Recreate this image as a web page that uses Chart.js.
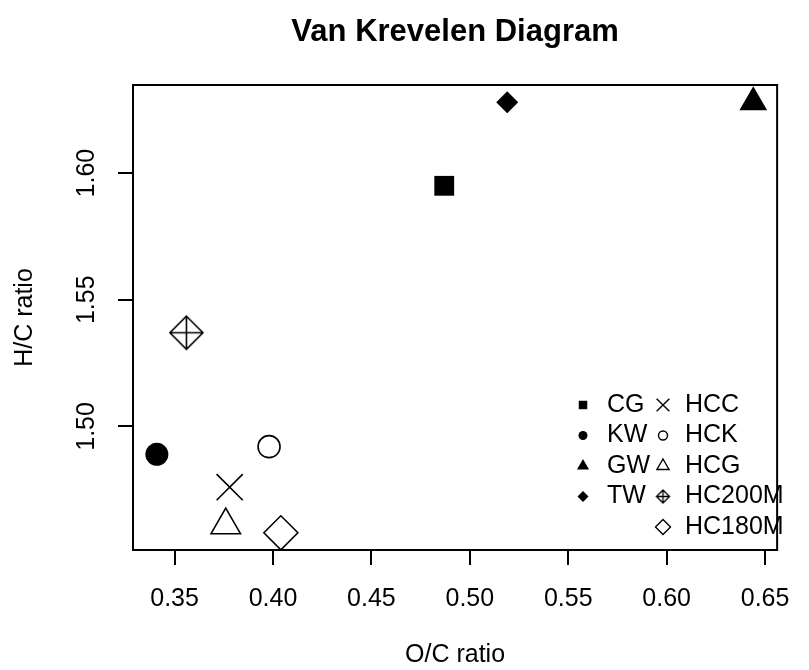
<!DOCTYPE html>
<html>
<head>
<meta charset="utf-8">
<title>Van Krevelen Diagram</title>
<script src="https://cdn.jsdelivr.net/npm/chart.js@4.4.1/dist/chart.umd.min.js"></script>
<style>
  html, body { margin: 0; padding: 0; background: #fff; overflow: hidden; }
</style>
</head>
<body>
<canvas id="vkChart" width="809" height="670"></canvas>
<script>
// samples and their atomic ratios
const sampleNames = ['CG', 'KW', 'GW', 'TW', 'HCC', 'HCK', 'HCG', 'HC200M', 'HC180M'];
const ocRatio = [0.487, 0.341, 0.644, 0.519, 0.378, 0.398, 0.376, 0.356, 0.404];
const hcRatio = [1.595, 1.489, 1.628, 1.628, 1.476, 1.492, 1.461, 1.537, 1.458];

// axis ticks
const xTicks = [0.35, 0.40, 0.45, 0.50, 0.55, 0.60, 0.65];
const yTicks = [1.50, 1.55, 1.60];

const FONT = "'Liberation Sans', Arial, sans-serif";
Chart.defaults.font.family = FONT;
Chart.defaults.color = '#000';

// diamond with a cross inside (no built-in point style for it)
function diamondPlus(r, lw) {
    const s = Math.ceil(2 * r + lw + 2);
    const c = document.createElement('canvas');
    c.width = s;
    c.height = s;
    const g = c.getContext('2d');
    const m = s / 2;
    g.strokeStyle = '#000';
    g.lineWidth = lw;
    g.beginPath();
    g.moveTo(m, m - r); g.lineTo(m + r, m); g.lineTo(m, m + r); g.lineTo(m - r, m); g.closePath();
    g.moveTo(m, m - r); g.lineTo(m, m + r);
    g.moveTo(m - r, m); g.lineTo(m + r, m);
    g.stroke();
    return c;
}

// marker look per sample: style, radius in plot, radius in key, filled
const markers = [
    { style: 'rect', r: 14, lr: 6, fill: true },
    { style: 'circle', r: 11.5, lr: 4.5, fill: true },
    { style: 'triangle', r: 16, lr: 7, fill: true },
    { style: 'rectRot', r: 11, lr: 5.5, fill: true },
    { style: 'crossRot', r: 18.5, lr: 9, fill: false },
    { style: 'circle', r: 11, lr: 4.5, fill: false },
    { style: 'triangle', r: 17, lr: 7, fill: false },
    { style: diamondPlus(16.5, 1.6), legendStyle: diamondPlus(6.5, 1.3), r: 16.5, lr: 6.5, fill: false },
    { style: 'rectRot', r: 17, lr: 7.5, fill: false }
];

// R-style 4% extension of the data range
function padRange(vals) {
    const lo = Math.min(...vals), hi = Math.max(...vals);
    const d = (hi - lo) * 0.04;
    return [lo - d, hi + d];
}
const [xMin, xMax] = padRange(ocRatio);
const [yMin, yMax] = padRange(hcRatio);

const datasets = sampleNames.map((name, i) => ({
    label: name,
    data: [{ x: ocRatio[i], y: hcRatio[i] }],
    pointStyle: markers[i].style,
    pointRadius: markers[i].r,
    backgroundColor: markers[i].fill ? '#000' : 'rgba(0,0,0,0)',
    borderColor: '#000',
    borderWidth: markers[i].fill ? 0 : 1.6,
    clip: false
}));

// closed frame around the plotting region
const framePlugin = {
    id: 'frame',
    afterDatasetsDraw(chart) {
        const a = chart.chartArea;
        const ctx = chart.ctx;
        ctx.save();
        ctx.strokeStyle = '#000';
        ctx.lineWidth = 2;
        ctx.strokeRect(a.left, a.top, a.right - a.left, a.bottom - a.top);
        ctx.restore();
    }
};

// two-column key in the lower right, no box
const keyPlugin = {
    id: 'key',
    afterDraw(chart) {
        const ctx = chart.ctx;
        const cols = [
            { items: [0, 1, 2, 3], symX: 583, textX: 607 },
            { items: [4, 5, 6, 7, 8], symX: 663, textX: 685 }
        ];
        const top = 405, gap = 30.5;
        ctx.save();
        ctx.font = '25px ' + FONT;
        ctx.textAlign = 'left';
        ctx.textBaseline = 'middle';
        cols.forEach(col => {
            col.items.forEach((idx, row) => {
                const m = markers[idx];
                const y = top + row * gap;
                ctx.fillStyle = m.fill ? '#000' : 'rgba(0,0,0,0)';
                ctx.strokeStyle = '#000';
                ctx.lineWidth = 1.4;
                Chart.helpers.drawPoint(ctx, {
                    pointStyle: m.legendStyle || m.style,
                    radius: m.lr,
                    rotation: 0,
                    borderWidth: m.fill ? 0 : 1.4
                }, col.symX, y);
                ctx.fillStyle = '#000';
                ctx.fillText(sampleNames[idx], col.textX, y);
            });
        });
        ctx.restore();
    }
};

const tickGrid = {
    display: true,
    drawOnChartArea: false,
    drawTicks: true,
    tickLength: 15,
    color: '#000',
    lineWidth: 2
};

new Chart(document.getElementById('vkChart'), {
    type: 'scatter',
    data: { datasets },
    plugins: [framePlugin, keyPlugin],
    options: {
        responsive: false,
        animation: false,
        events: [],
        layout: { padding: { right: 15 } },
        plugins: {
            legend: { display: false },
            tooltip: { enabled: false },
            title: {
                display: true,
                text: 'Van Krevelen Diagram',
                fullSize: false,
                color: '#000',
                font: { size: 31, weight: 'bold' },
                padding: { top: 13.4, bottom: 34.4 }
            }
        },
        scales: {
            x: {
                type: 'linear',
                min: xMin,
                max: xMax,
                afterBuildTicks: s => { s.ticks = xTicks.map(v => ({ value: v })); },
                afterFit: s => { s.height = 120; },
                ticks: {
                    autoSkip: false,
                    maxRotation: 0,
                    padding: 19,
                    color: '#000',
                    font: { size: 25 },
                    callback: v => v.toFixed(2)
                },
                grid: tickGrid,
                border: { display: false },
                title: {
                    display: true,
                    text: 'O/C ratio',
                    color: '#000',
                    font: { size: 25 },
                    padding: { top: 0, bottom: 0 }
                }
            },
            y: {
                type: 'linear',
                min: yMin,
                max: yMax,
                afterBuildTicks: s => { s.ticks = yTicks.map(v => ({ value: v })); },
                afterFit: s => { s.width = 133; },
                ticks: {
                    autoSkip: false,
                    minRotation: 90,
                    maxRotation: 90,
                    crossAlign: 'center',
                    padding: 6.5,
                    color: '#000',
                    font: { size: 25 },
                    callback: v => v.toFixed(2)
                },
                grid: tickGrid,
                border: { display: false },
                title: {
                    display: true,
                    text: 'H/C ratio',
                    color: '#000',
                    font: { size: 25 },
                    padding: { top: 10, bottom: 0 }
                }
            }
        }
    }
});
</script>
</body>
</html>
